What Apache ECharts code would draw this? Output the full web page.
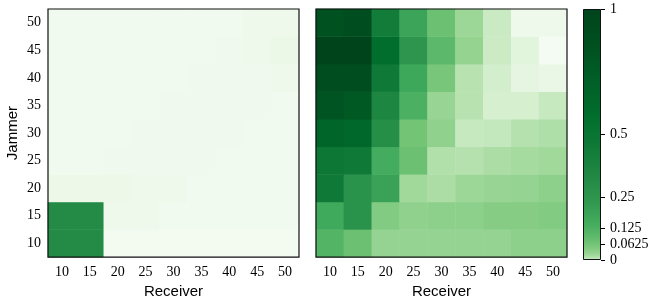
<!DOCTYPE html>
<html>
<head>
<meta charset="utf-8">
<script src="https://cdn.jsdelivr.net/npm/echarts@6/dist/echarts.min.js"></script>
<style>
  html, body { margin: 0; padding: 0; background: #fff; }
  #chart { width: 654px; height: 304px; }
</style>
</head>
<body>
<div id="chart"></div>
<script>
const receivers = ['10', '15', '20', '25', '30', '35', '40', '45', '50'];
const jammers = ['10', '15', '20', '25', '30', '35', '40', '45', '50'];

// rows go jammer 10 -> 50, columns receiver 10 -> 50
const leftValues = [
  [0.316, 0.316, 8e-7, 8e-7, 8e-7, 8e-7, 8e-7, 8e-7, 8e-7],
  [0.316, 0.316, 1.3e-5, 1.3e-5, 2.6e-6, 2.6e-6, 2.6e-6, 2.6e-6, 2.6e-6],
  [2.4e-5, 2.4e-5, 2.4e-5, 1.3e-5, 1.3e-5, 2.6e-6, 2.6e-6, 2.6e-6, 2.6e-6],
  [2.6e-6, 2.6e-6, 6.3e-6, 6.3e-6, 6.3e-6, 6.3e-6, 2.6e-6, 2.6e-6, 2.6e-6],
  [2.6e-6, 2.6e-6, 2.6e-6, 6.3e-6, 6.3e-6, 6.3e-6, 6.3e-6, 2.6e-6, 2.6e-6],
  [2.6e-6, 2.6e-6, 2.6e-6, 2.6e-6, 6.3e-6, 6.3e-6, 6.3e-6, 6.3e-6, 2.6e-6],
  [2.6e-6, 2.6e-6, 2.6e-6, 2.6e-6, 2.6e-6, 6.3e-6, 6.3e-6, 6.3e-6, 1.3e-5],
  [2.6e-6, 2.6e-6, 2.6e-6, 2.6e-6, 2.6e-6, 2.6e-6, 6.3e-6, 1.3e-5, 4.1e-5],
  [2.6e-6, 2.6e-6, 2.6e-6, 2.6e-6, 2.6e-6, 2.6e-6, 2.6e-6, 1.3e-5, 1.3e-5]
];

const rightValues = [
  [0.113, 0.073, 0.0283, 0.0283, 0.0283, 0.0283, 0.0283, 0.0342, 0.0342],
  [0.158, 0.269, 0.0448, 0.0311, 0.0342, 0.0342, 0.041, 0.041, 0.0448],
  [0.452, 0.269, 0.19, 0.0198, 0.0134, 0.0231, 0.0256, 0.0283, 0.0342],
  [0.475, 0.452, 0.148, 0.073, 0.0105, 0.0092, 0.0134, 0.0168, 0.0198],
  [0.656, 0.627, 0.3, 0.0625, 0.0311, 0.0039, 0.0046, 0.0092, 0.0119],
  [0.815, 0.781, 0.352, 0.13, 0.0256, 0.0081, 0.0013, 0.0013, 0.0039],
  [0.885, 0.885, 0.452, 0.168, 0.058, 0.0081, 0.0016, 0.00021, 0.000066],
  [1.0, 1.0, 0.573, 0.254, 0.098, 0.028, 0.0028, 0.00038, 1.6e-7],
  [0.849, 0.885, 0.431, 0.179, 0.073, 0.023, 0.0033, 0.000013, 0.000013]
];

const colorbarTicks = [0, 0.0625, 0.125, 0.25, 0.5, 1];

const greens = ['#f7fcf5', '#e5f5e0', '#c7e9c0', '#a1d99b', '#74c476',
  '#41ab5d', '#238b45', '#006d2c', '#00441b'];
const gamma = 0.25;

function toCells(values) {
  const out = [];
  values.forEach((row, yi) => {
    row.forEach((v, xi) => {
      out.push([xi, yi, v, Math.pow(v, gamma)]);
    });
  });
  return out;
}

function hexToRgb(h) {
  return [1, 3, 5].map(i => parseInt(h.slice(i, i + 2), 16));
}

function greensAt(t) {
  const p = Math.min(Math.max(t, 0), 1) * (greens.length - 1);
  const i = Math.min(Math.floor(p), greens.length - 2);
  const f = p - i;
  const a = hexToRgb(greens[i]);
  const b = hexToRgb(greens[i + 1]);
  const c = a.map((x, k) => Math.round(x + (b[k] - x) * f));
  return `rgb(${c[0]},${c[1]},${c[2]})`;
}

// gradient for the colorbar: colour at value v is greens(v^gamma)
const cbStops = [];
for (let i = 0; i <= 64; i++) {
  const t = i / 64;
  cbStops.push({ offset: 1 - Math.pow(t, 1 / gamma), color: greensAt(t) });
}
cbStops.reverse();

const serif = 'Liberation Serif';
const sans = 'Liberation Sans';

function heatAxes(gridIndex, showY) {
  return {
    x: {
      type: 'category', gridIndex, data: receivers,
      name: 'Receiver', nameLocation: 'middle', nameGap: 23,
      nameTextStyle: { fontFamily: sans, fontSize: 15, color: '#000' },
      axisLine: { show: false }, axisTick: { show: false },
      axisLabel: { fontFamily: serif, fontSize: 14, color: '#000', margin: 8 },
      splitLine: { show: false }
    },
    y: {
      type: 'category', gridIndex, data: jammers,
      name: showY ? 'Jammer' : '', nameLocation: 'middle', nameGap: 28,
      nameTextStyle: { fontFamily: sans, fontSize: 15, color: '#000' },
      axisLine: { show: false }, axisTick: { show: false },
      axisLabel: { show: showY, fontFamily: serif, fontSize: 14, color: '#000', margin: 7 },
      splitLine: { show: false }
    }
  };
}

const a0 = heatAxes(0, true);
const a1 = heatAxes(1, false);

const chart = echarts.init(document.getElementById('chart'));
chart.setOption({
  animation: false,
  backgroundColor: '#fff',
  grid: [
    { left: 48, top: 9, width: 251, height: 251, show: true, z: 10, borderColor: '#111', borderWidth: 1.2, backgroundColor: 'transparent' },
    { left: 316, top: 9, width: 251, height: 251, show: true, z: 10, borderColor: '#111', borderWidth: 1.2, backgroundColor: 'transparent' },
    { left: 583, top: 9, width: 18, height: 251 }
  ],
  xAxis: [a0.x, a1.x, {
    type: 'category', gridIndex: 2, data: [''], show: false
  }],
  yAxis: [a0.y, a1.y, {
    type: 'value', gridIndex: 2, min: 0, max: 1, position: 'right',
    axisLine: { show: false },
    splitLine: { show: false },
    axisTick: { show: true, customValues: colorbarTicks, length: 4, lineStyle: { color: '#000', width: 1 } },
    axisLabel: { customValues: colorbarTicks, fontFamily: serif, fontSize: 14, color: '#000', margin: 9,
      formatter: v => String(v) }
  }],
  visualMap: {
    show: false, type: 'continuous', seriesIndex: [0, 1], dimension: 3,
    min: 0, max: 1, inRange: { color: greens }
  },
  series: [
    { type: 'heatmap', xAxisIndex: 0, yAxisIndex: 0, data: toCells(leftValues), itemStyle: { borderWidth: 0 } },
    { type: 'heatmap', xAxisIndex: 1, yAxisIndex: 1, data: toCells(rightValues), itemStyle: { borderWidth: 0 } },
    {
      type: 'bar', xAxisIndex: 2, yAxisIndex: 2, data: [1], barWidth: '100%', silent: true,
      itemStyle: {
        color: new echarts.graphic.LinearGradient(0, 0, 0, 1, cbStops),
        borderColor: '#111', borderWidth: 1
      }
    }
  ]
});
</script>
</body>
</html>
